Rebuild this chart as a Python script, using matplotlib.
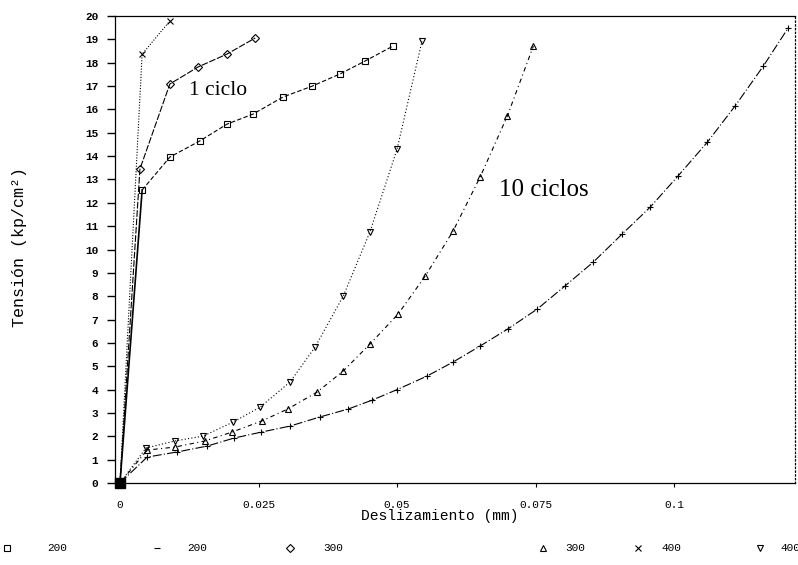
import matplotlib.pyplot as plt
from matplotlib.lines import Line2D

# Deslizamiento (mm) y tension (kp/cm2) de cada ensayo
# 1 ciclo
x_200_1 = [0, 0.0040, 0.0090, 0.0144, 0.0193, 0.0240, 0.0294, 0.0347, 0.0397, 0.0442, 0.0493]
y_200_1 = [0, 12.55, 13.96, 14.65, 15.37, 15.80, 16.53, 17.00, 17.52, 18.07, 18.72]
x_300_1 = [0, 0.0036, 0.0090, 0.0141, 0.0193, 0.0244]
y_300_1 = [0, 13.45, 17.09, 17.82, 18.37, 19.06]
x_400_1 = [0, 0.0040, 0.0090]
y_400_1 = [0, 18.37, 19.79]

# 10 ciclos
x_200_10 = [0, 0.0049, 0.0103, 0.0157, 0.0205, 0.0255, 0.0307, 0.0361, 0.0412, 0.0455, 0.0500,
            0.0554, 0.0601, 0.0650, 0.0700, 0.0753, 0.0803, 0.0854, 0.0906, 0.0957, 0.1007,
            0.1060, 0.1110, 0.1161, 0.1206]
y_200_10 = [0, 1.11, 1.33, 1.58, 1.92, 2.18, 2.44, 2.83, 3.17, 3.55, 4.00,
            4.58, 5.18, 5.87, 6.60, 7.45, 8.44, 9.46, 10.66, 11.82, 13.15,
            14.60, 16.15, 17.86, 19.50]
x_300_10 = [0, 0.0049, 0.0099, 0.0153, 0.0202, 0.0256, 0.0303, 0.0356, 0.0403, 0.0451, 0.0502,
            0.0551, 0.0601, 0.0650, 0.0699, 0.0746]
y_300_10 = [0, 1.41, 1.54, 1.80, 2.18, 2.66, 3.17, 3.90, 4.80, 5.95, 7.24,
            8.87, 10.79, 13.11, 15.72, 18.72]
x_400_10 = [0, 0.0047, 0.0099, 0.0150, 0.0204, 0.0253, 0.0307, 0.0352, 0.0403, 0.0451, 0.0500, 0.0545]
y_400_10 = [0, 1.50, 1.80, 2.01, 2.61, 3.25, 4.33, 5.82, 8.01, 10.75, 14.30, 18.93]

xticks = [0, 0.025, 0.05, 0.075, 0.1]
xticklabels = ['0', '0.025', '0.05', '0.075', '0.1']
legend_labels = ['200', '200', '300', '300', '400', '400']

fig = plt.figure(figsize=(7.98, 5.65), dpi=100)
ax = fig.add_axes([0.1441, 0.1451, 0.8521, 0.8265])

k = dict(color='black', lw=0.8, mfc='none', mec='black', mew=0.8)
ax.plot(x_200_1[:2], y_200_1[:2], '-', color='black', lw=1.2)
ax.plot(x_200_1[1:], y_200_1[1:], ls=(0, (4, 2)), marker='s', ms=5, **k)
ax.plot(x_300_1, y_300_1, ls=(0, (6, 1.5)), marker='D', ms=4, **k)
ax.plot(x_400_1, y_400_1, ls=(0, (1, 1.5)), marker='x', ms=5, **k)
ax.plot(x_200_10, y_200_10, ls=(0, (8, 2, 1, 2)), marker='+', ms=5, **k)
ax.plot(x_300_10, y_300_10, ls=(0, (4, 3, 1, 3)), marker='^', ms=4, **k)
ax.plot(x_400_10, y_400_10, ls=(0, (1, 2)), marker='v', ms=4, **k)
ax.plot([0], [0], 's', color='black', ms=7, clip_on=False)

ax.text(0.0177, 16.8, '1 ciclo', family='Liberation Serif', fontsize=15.5, ha='center', va='center')
ax.text(0.0764, 12.55, '10 ciclos', family='Liberation Serif', fontsize=18, ha='center', va='center')

ax.set_xlim(-0.0009, 0.1218)
ax.set_ylim(0, 20)
ax.set_xticks(xticks)
ax.set_xticklabels(xticklabels)
ax.set_yticks(range(0, 21))
ax.tick_params(axis='y', direction='out', length=6, width=1, pad=6, labelsize=8)
ax.tick_params(axis='x', direction='out', length=3, width=0.8, pad=9, labelsize=8)
for lab in ax.get_xticklabels() + ax.get_yticklabels():
    lab.set_family('Liberation Mono')
for lab in ax.get_yticklabels():
    lab.set_weight('bold')
ax.spines['left'].set_linestyle((0, (2, 1)))
ax.spines['right'].set_linestyle((0, (1, 2)))
for s in ax.spines.values():
    s.set_linewidth(0.9)

fig.text(440 / 798, 1 - 516 / 565, 'Deslizamiento (mm)', family='Liberation Mono',
         fontsize=10.5, ha='center', va='center')
fig.text(20 / 798, 1 - 247 / 565, 'Tensión (kp/cm²)', family='Liberation Mono',
         fontsize=12, ha='center', va='center', rotation=90)

# fila de leyenda bajo el eje
legend_markers = ['s', '_', 'D', '^', 'x', 'v']
marker_px = [7, 157, 290, 543, 638, 760]
label_px = [57, 197, 333, 575, 671, 790]
ly = 1 - 548 / 565
for m, mx, tx, lab in zip(legend_markers, marker_px, label_px, legend_labels):
    fig.add_artist(Line2D([mx / 798], [ly], marker=m, ms=4, mfc='none', mec='black', mew=0.8,
                          ls='none', transform=fig.transFigure))
    fig.text(tx / 798, ly, lab, family='Liberation Mono', fontsize=8, ha='center', va='center')

fig.savefig('out.png', dpi=100)
